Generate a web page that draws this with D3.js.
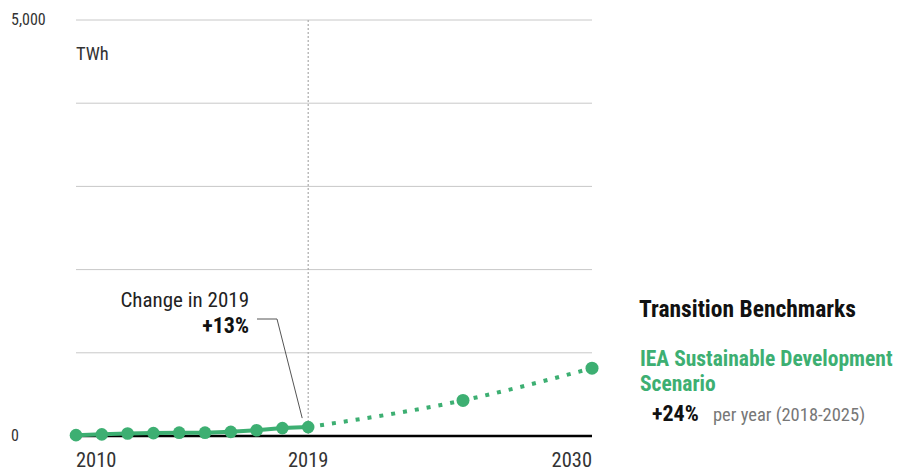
<!DOCTYPE html>
<html>
<head>
<meta charset="utf-8">
<script src="https://cdn.jsdelivr.net/npm/d3@7"></script>
<style>
  body { margin: 0; background: #fff; }
  svg { display: block; font-family: "Liberation Sans Narrow", "Roboto Condensed", "DejaVu Sans Condensed", sans-serif; }
</style>
</head>
<body>
<svg id="chart" width="916" height="472"></svg>
<script>
// Historical generation (TWh)
const histYears = [2010, 2011, 2012, 2013, 2014, 2015, 2016, 2017, 2018, 2019];
const histValues = [10, 20, 30, 35, 40, 40, 50, 70, 95, 107];

// IEA Sustainable Development Scenario path (TWh)
const sdsYears = [2019, 2025, 2030];
const sdsValues = [107, 428, 815];

const yTicks = [0, 1000, 2000, 3000, 4000, 5000];
const yTickLabels = ["0", "", "", "", "", "5,000"];
const xTickYears = [2010, 2019, 2030];

const green = "#3daf72";

const svg = d3.select("#chart");
const x = d3.scaleLinear().domain([2010, 2030]).range([76, 592]);
const y = d3.scaleLinear().domain([0, 5000]).range([436, 20]);

// horizontal gridlines
svg.append("g").selectAll("line")
  .data(yTicks.filter(d => d > 0))
  .join("line")
  .attr("x1", x(2010)).attr("x2", x(2030))
  .attr("y1", d => y(d)).attr("y2", d => y(d))
  .attr("stroke", "#c8c8c8").attr("stroke-width", 1);

// y tick labels
svg.append("g").selectAll("text")
  .data(yTicks.map((d, i) => ({ v: d, t: yTickLabels[i] })).filter(d => d.t))
  .join("text")
  .attr("x", 11).attr("y", d => y(d.v) + 5)
  .attr("font-size", 16).attr("fill", "#333")
  .text(d => d.t);

svg.append("text").attr("x", 76).attr("y", 60)
  .attr("font-size", 18.5).attr("fill", "#333").text("TWh");

// current-year marker
svg.append("line")
  .attr("x1", x(2019)).attr("x2", x(2019))
  .attr("y1", y(5000)).attr("y2", y(0))
  .attr("stroke", "#aaa").attr("stroke-width", 1.2)
  .attr("stroke-dasharray", "2,2");

// baseline
svg.append("line")
  .attr("x1", x(2010)).attr("x2", x(2030))
  .attr("y1", y(0)).attr("y2", y(0))
  .attr("stroke", "#000").attr("stroke-width", 2.5);

// x tick labels
svg.append("g").selectAll("text")
  .data(xTickYears)
  .join("text")
  .attr("x", d => x(d)).attr("y", 467)
  .attr("text-anchor", (d, i) => i === 0 ? "start" : i === xTickYears.length - 1 ? "end" : "middle")
  .attr("font-size", 20.5).attr("fill", "#333")
  .text(d => d);

// scenario path
const sds = sdsYears.map((d, i) => [d, sdsValues[i]]);
svg.append("path")
  .datum(sds)
  .attr("d", d3.line().x(d => x(d[0])).y(d => y(d[1])).curve(d3.curveMonotoneX))
  .attr("fill", "none").attr("stroke", green).attr("stroke-width", 4)
  .attr("stroke-dasharray", "4,8");
svg.append("g").selectAll("circle")
  .data(sds.slice(1))
  .join("circle")
  .attr("cx", d => x(d[0])).attr("cy", d => y(d[1])).attr("r", 6.5)
  .attr("fill", green);

// historical series
const hist = histYears.map((d, i) => [d, histValues[i]]);
svg.append("path")
  .datum(hist)
  .attr("d", d3.line().x(d => x(d[0])).y(d => y(d[1])))
  .attr("fill", "none").attr("stroke", green).attr("stroke-width", 4);
svg.append("g").selectAll("circle")
  .data(hist)
  .join("circle")
  .attr("cx", d => x(d[0])).attr("cy", d => y(d[1])).attr("r", 6.3)
  .attr("fill", green);

// annotation for latest change
const last = hist[hist.length - 1];
const prev = hist[hist.length - 2];
const change = Math.round((last[1] / prev[1] - 1) * 100);
svg.append("text").attr("x", 249).attr("y", 307)
  .attr("text-anchor", "end").attr("font-size", 21).attr("fill", "#222")
  .text("Change in " + last[0]);
svg.append("text").attr("x", 249).attr("y", 333)
  .attr("text-anchor", "end").attr("font-size", 22).attr("font-weight", "bold").attr("fill", "#111")
  .text("+" + change + "%");
svg.append("polyline")
  .attr("points", [[257, 319], [277, 319], [x(last[0]) - 6, y(last[1]) - 9]].map(p => p.join(",")).join(" "))
  .attr("fill", "none").attr("stroke", "#555").attr("stroke-width", 1);

// benchmarks panel
svg.append("text").attr("x", 639).attr("y", 317)
  .attr("font-size", 23.5).attr("font-weight", "bold").attr("fill", "#111")
  .text("Transition Benchmarks");
svg.append("text").attr("x", 640).attr("y", 366)
  .attr("font-size", 21.5).attr("font-weight", "bold").attr("fill", green)
  .text("IEA Sustainable Development");
svg.append("text").attr("x", 640).attr("y", 391)
  .attr("font-size", 21.5).attr("font-weight", "bold").attr("fill", green)
  .text("Scenario");
svg.append("text").attr("x", 652).attr("y", 421)
  .attr("font-size", 22).attr("font-weight", "bold").attr("fill", "#111")
  .text("+24%");
svg.append("text").attr("x", 713).attr("y", 421)
  .attr("font-size", 18.5).attr("fill", "#777")
  .text("per year (2018-2025)");
</script>
</body>
</html>
